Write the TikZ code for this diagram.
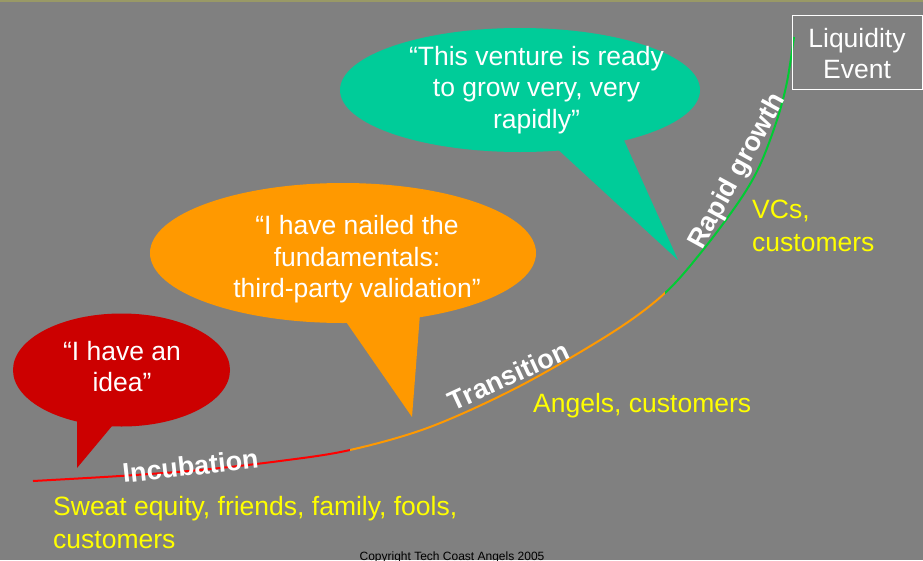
\documentclass[tikz,border=0pt]{standalone}
\usepackage{fontspec}
\setmainfont{Liberation Sans}
\usetikzlibrary{shapes.geometric}
\definecolor{bgc}{HTML}{808080}
\definecolor{olivec}{HTML}{999966}
\definecolor{bubred}{HTML}{CC0000}
\definecolor{bubora}{HTML}{FF9900}
\definecolor{bubgrn}{HTML}{00CC99}
\definecolor{curred}{HTML}{FF0000}
\definecolor{curora}{HTML}{FF9900}
\definecolor{curgrn}{HTML}{00CC33}
\definecolor{yel}{HTML}{FFFF00}
\begin{document}
\begin{tikzpicture}[x=1pt,y=-1pt,
  bubtext/.style={text=white,inner sep=0pt,anchor=base,font=\fontsize{26.5}{31.5}\selectfont},
  yeltext/.style={text=yel,inner sep=0pt,anchor=base west,font=\fontsize{26.5}{33}\selectfont},
  stagelabel/.style={text=white,inner sep=0pt,anchor=base,font=\fontsize{27}{30}\selectfont\bfseries},
  bubble/.style={ellipse,inner sep=0pt,draw=none}]
\useasboundingbox (0,0) rectangle (923,560);
\fill[bgc] (0,0) rectangle (923,560);
\fill[olivec] (0,0) rectangle (923,2);

% speech bubbles
\node[bubble,fill=bubred,minimum width=217,minimum height=113] (redb) at (121.5,370) {};
\fill[bubred] (77,414) -- (77,468) -- (117,420) -- cycle;
\node[bubble,fill=bubora,minimum width=386,minimum height=140] (orab) at (343,253) {};
\fill[bubora] (342,316) -- (412,417) -- (420,314) -- cycle;
\node[bubble,fill=bubgrn,minimum width=360,minimum height=124] (grnb) at (520,90) {};
\fill[bubgrn] (552,144) -- (678,260) -- (623,138) -- cycle;

\node[bubtext] (r1) at (122,360) {“I have an};
\node[bubtext] (r2) at (122,391) {idea”};
\node[bubtext] (o1) at (357,234) {“I have nailed the};
\node[bubtext] (o2) at (357,266) {fundamentals:};
\node[bubtext] (o3) at (357,297) {third-party validation”};
\node[bubtext] (g1) at (536.5,65) {“This venture is ready};
\node[bubtext] (g2) at (536.5,96) {to grow very, very};
\node[bubtext] (g3) at (536.5,128) {rapidly”};

% growth curve
\path[save path=\growthcurve] plot[smooth,tension=0.55] coordinates {(33,481) (120,476) (200,470) (280,461) (350,450) (430,427) (520,386) (613,332) (665,293) (703,250) (740,200) (760,165) (777,120) (787,82) (794,37)};
\begin{scope}
\clip (0,0) rectangle (350,560);
\draw[curred,line width=2pt,use path=\growthcurve];
\end{scope}
\begin{scope}
\clip (350,0) rectangle (665,560);
\draw[curora,line width=2pt,use path=\growthcurve];
\end{scope}
\begin{scope}
\clip (665,0) rectangle (923,560);
\draw[curgrn,line width=2pt,use path=\growthcurve];
\end{scope}

% stage labels
\node[stagelabel,rotate=6.25] (incub) at (191.5,475.5) {Incubation};
\node[stagelabel,rotate=24.8] (trans) at (512.5,384.5) {Transition};
\node[stagelabel,rotate=61.3] (rapid) at (744,175) {Rapid growth};

% funding sources
\node[yeltext] (y1) at (53,515) {Sweat equity, friends, family, fools,};
\node[yeltext] (y2) at (53,548) {customers};
\node[yeltext] (y3) at (533,412) {Angels, customers};
\node[yeltext] (y4) at (752,218) {VCs,};
\node[yeltext] (y5) at (752,251) {customers};

% liquidity event
\node[draw=white,line width=1pt,minimum width=130,minimum height=74,inner sep=0pt] (liq) at (857,52) {};
\node[bubtext] (l1) at (857,47) {Liquidity};
\node[bubtext] (l2) at (857,78) {Event};

% copyright
\node[inner sep=0pt,anchor=base,text=black,font=\fontsize{12}{14}\selectfont] (copy) at (452,560) {Copyright Tech Coast Angels 2005};
\end{tikzpicture}
\end{document}
